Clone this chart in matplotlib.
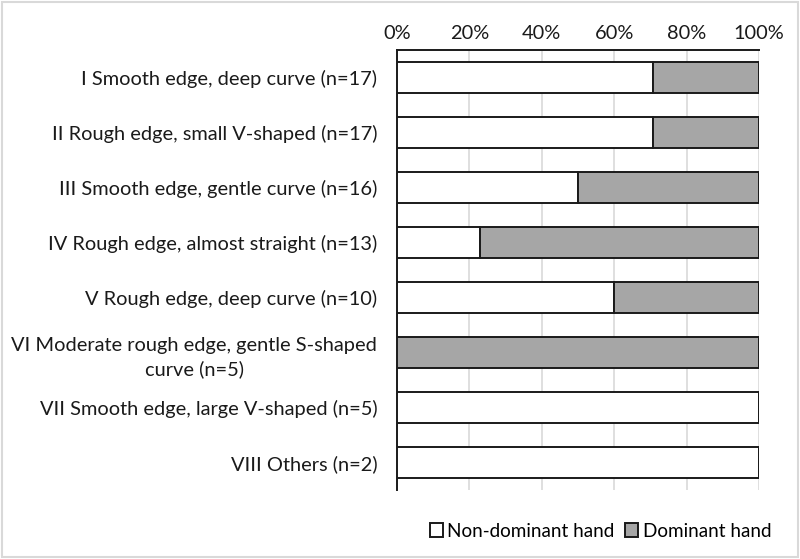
import numpy as np
import matplotlib.pyplot as plt
from matplotlib.patches import Rectangle
from matplotlib.ticker import PercentFormatter

plt.rcParams['font.family'] = ['Lato', 'DejaVu Sans']

categories = [
    "I Smooth edge, deep curve (n=17)",
    "II Rough edge, small V-shaped (n=17)",
    "III Smooth edge, gentle curve (n=16)",
    "IV Rough edge, almost straight (n=13)",
    "V Rough edge, deep curve (n=10)",
    "VI Moderate rough edge, gentle S-shaped\ncurve (n=5)",
    "VII Smooth edge, large V-shaped (n=5)",
    "VIII Others (n=2)",
]
totals = [17, 17, 16, 13, 10, 5, 5, 2]
non_dominant = [12, 12, 8, 3, 6, 0, 5, 2]
dominant = [5, 5, 8, 10, 4, 5, 0, 0]

nd_pct = np.array(non_dominant) / np.array(totals) * 100
d_pct = np.array(dominant) / np.array(totals) * 100

fig = plt.figure(figsize=(8, 5.59), dpi=100)
ax = fig.add_axes([0.496, 0.1234, 0.453, 0.7872])

y = np.arange(len(categories))
ax.barh(y, nd_pct, height=0.58, color='white', edgecolor='#1a1a1a',
        linewidth=1.4, label='Non-dominant hand', zorder=3)
ax.barh(y, d_pct, left=nd_pct, height=0.58, color='#a6a6a6',
        edgecolor='#1a1a1a', linewidth=1.4, label='Dominant hand', zorder=3)

ax.set_ylim(len(categories) - 0.5, -0.5)
ax.set_xlim(0, 100)
ax.set_xticks([0, 20, 40, 60, 80, 100])
ax.xaxis.set_major_formatter(PercentFormatter(decimals=0))
ax.xaxis.tick_top()
ax.set_yticks(y)
ax.set_yticklabels(categories)
for lab in ax.get_yticklabels():
    lab.set_multialignment('center')
    lab.set_linespacing(1.45)
ax.tick_params(axis='both', labelsize=14.4, colors='#1a1a1a', length=0)
ax.tick_params(axis='x', pad=6)
ax.tick_params(axis='y', pad=14)
ax.grid(axis='x', color='#d9d9d9', linewidth=1.2, zorder=0)

for s in ['right', 'bottom']:
    ax.spines[s].set_visible(False)
for s in ['left', 'top']:
    ax.spines[s].set_color('#1a1a1a')
    ax.spines[s].set_linewidth(1.4)

leg = ax.legend(loc='lower right', bbox_to_anchor=(1.055, -0.13), ncol=2,
                frameon=False, fontsize=13.6, handlelength=0.7,
                handleheight=0.7, handletextpad=0.25, columnspacing=0.55,
                borderaxespad=0)

fig.patches.append(Rectangle((0.002, 0.003), 0.996, 0.994,
                             transform=fig.transFigure, fill=False,
                             edgecolor='#d9d9d9', linewidth=1.5))

fig.savefig('out.png', dpi=100)
